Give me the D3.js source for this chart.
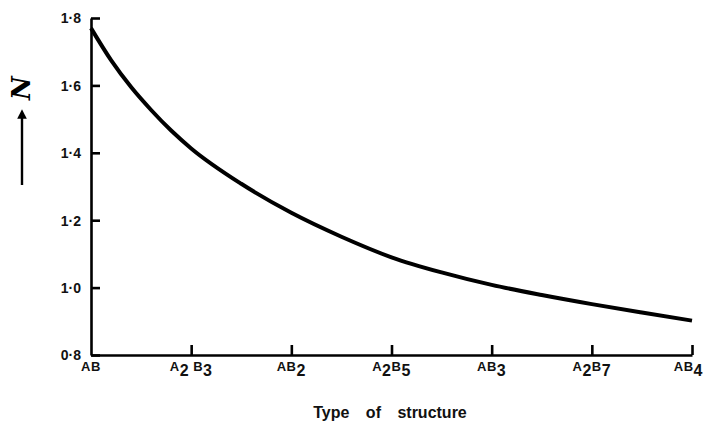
<!DOCTYPE html>
<html>
<head>
<meta charset="utf-8">
<script src="https://cdn.jsdelivr.net/npm/d3@7"></script>
<style>
  body { margin: 0; background: #fff; }
  svg { display: block; font-family: "Liberation Sans", "DejaVu Sans", sans-serif; }
  .axis path, .axis line { stroke: #000; stroke-width: 2.6; }
  .axis text { font-size: 14px; font-weight: bold; fill: #111; }
  .curve { fill: none; stroke: #000; stroke-width: 4; }
  .cat { font-size: 13px; font-weight: bold; fill: #111; letter-spacing: 0.5px; }
  .sub { font-size: 16px; }
</style>
</head>
<body>
<svg id="graph" width="704" height="425"></svg>
<script>
// ratio B/A of each structure type on the x axis
const structures = [
  {pos: 1.0, parts: [['AB', false]]},
  {pos: 1.5, parts: [['A', false], ['2', true], [' B', false], ['3', true]]},
  {pos: 2.0, parts: [['AB', false], ['2', true]]},
  {pos: 2.5, parts: [['A', false], ['2', true], ['B', false], ['5', true]]},
  {pos: 3.0, parts: [['AB', false], ['3', true]]},
  {pos: 3.5, parts: [['A', false], ['2', true], ['B', false], ['7', true]]},
  {pos: 4.0, parts: [['AB', false], ['4', true]]},
];

const ratio = [1.0, 1.1, 1.2, 1.3, 1.4, 1.5, 1.75, 2.0, 2.25, 2.5, 2.75, 3.0, 3.25, 3.5, 3.75, 4.0];
const nu    = [1.77, 1.675, 1.595, 1.527, 1.466, 1.413, 1.308, 1.222, 1.151, 1.09, 1.045, 1.008, 0.978, 0.951, 0.926, 0.902];

const yTicks = [0.8, 1.0, 1.2, 1.4, 1.6, 1.8];

const svg = d3.select('#graph');
const x = d3.scaleLinear().domain([1, 4]).range([91, 692]);
const y = d3.scaleLinear().domain([0.8, 1.8]).range([355, 18]);

// y axis, ticks pointing inward
const yAxis = svg.append('g')
  .attr('class', 'axis')
  .attr('transform', `translate(${x(1)},0)`)
  .call(d3.axisLeft(y).tickValues(yTicks).tickSize(-9).tickSizeOuter(0)
    .tickPadding(10).tickFormat(d => d3.format('.1f')(d).replace('.', '·')));
yAxis.selectAll('.tick line').attr('stroke-width', 1.8);
yAxis.selectAll('.tick text').attr('dy', '0.35em');

// x axis, ticks pointing up
const xAxis = svg.append('g')
  .attr('class', 'axis')
  .attr('transform', `translate(0,${y(0.8)})`)
  .call(d3.axisBottom(x).tickValues(structures.map(d => d.pos)).tickSize(-10).tickSizeOuter(0).tickFormat(''));
xAxis.selectAll('.tick line').attr('stroke-width', 1.8);
xAxis.selectAll('.tick').filter(d => d === 1).remove();

// category labels with subscripts
structures.forEach((s, k) => {
  const last = k === structures.length - 1;
  const t = svg.append('text')
    .attr('class', 'cat')
    .attr('x', last ? 703 : x(s.pos))
    .attr('y', 371)
    .attr('text-anchor', last ? 'end' : 'middle');
  s.parts.forEach(([txt, sub], i) => {
    const prevSub = i > 0 && s.parts[i - 1][1];
    t.append('tspan')
      .attr('class', sub ? 'sub' : null)
      .attr('dy', sub ? 5 : (prevSub ? -5 : 0))
      .text(txt);
  });
});

// curve
const line = d3.line()
  .x((d, i) => x(ratio[i]))
  .y(d => y(d))
  .curve(d3.curveMonotoneX);

svg.append('path')
  .datum(nu)
  .attr('class', 'curve')
  .attr('d', line);

// axis titles
svg.append('text')
  .attr('x', 390)
  .attr('y', 418)
  .attr('text-anchor', 'middle')
  .attr('font-size', 16)
  .attr('font-weight', 'bold')
  .attr('word-spacing', 12)
  .attr('fill', '#111')
  .text('Type of structure');

svg.append('text')
  .attr('transform', 'translate(30,88) rotate(-90)')
  .attr('text-anchor', 'middle')
  .attr('font-family', '"DejaVu Serif", serif')
  .attr('font-style', 'italic')
  .attr('font-weight', 'bold')
  .attr('font-size', 26)
  .text('N');

svg.append('defs').append('marker')
  .attr('id', 'arrow')
  .attr('viewBox', '0 0 10 10')
  .attr('refX', 5).attr('refY', 5)
  .attr('markerWidth', 4).attr('markerHeight', 6)
  .attr('orient', 'auto')
  .append('path').attr('d', 'M0,0 L10,5 L0,10 Z').attr('fill', '#000');

svg.append('line')
  .attr('x1', 22).attr('x2', 22)
  .attr('y1', 185).attr('y2', 114)
  .attr('stroke', '#000')
  .attr('stroke-width', 2.4)
  .attr('marker-end', 'url(#arrow)');
</script>
</body>
</html>
